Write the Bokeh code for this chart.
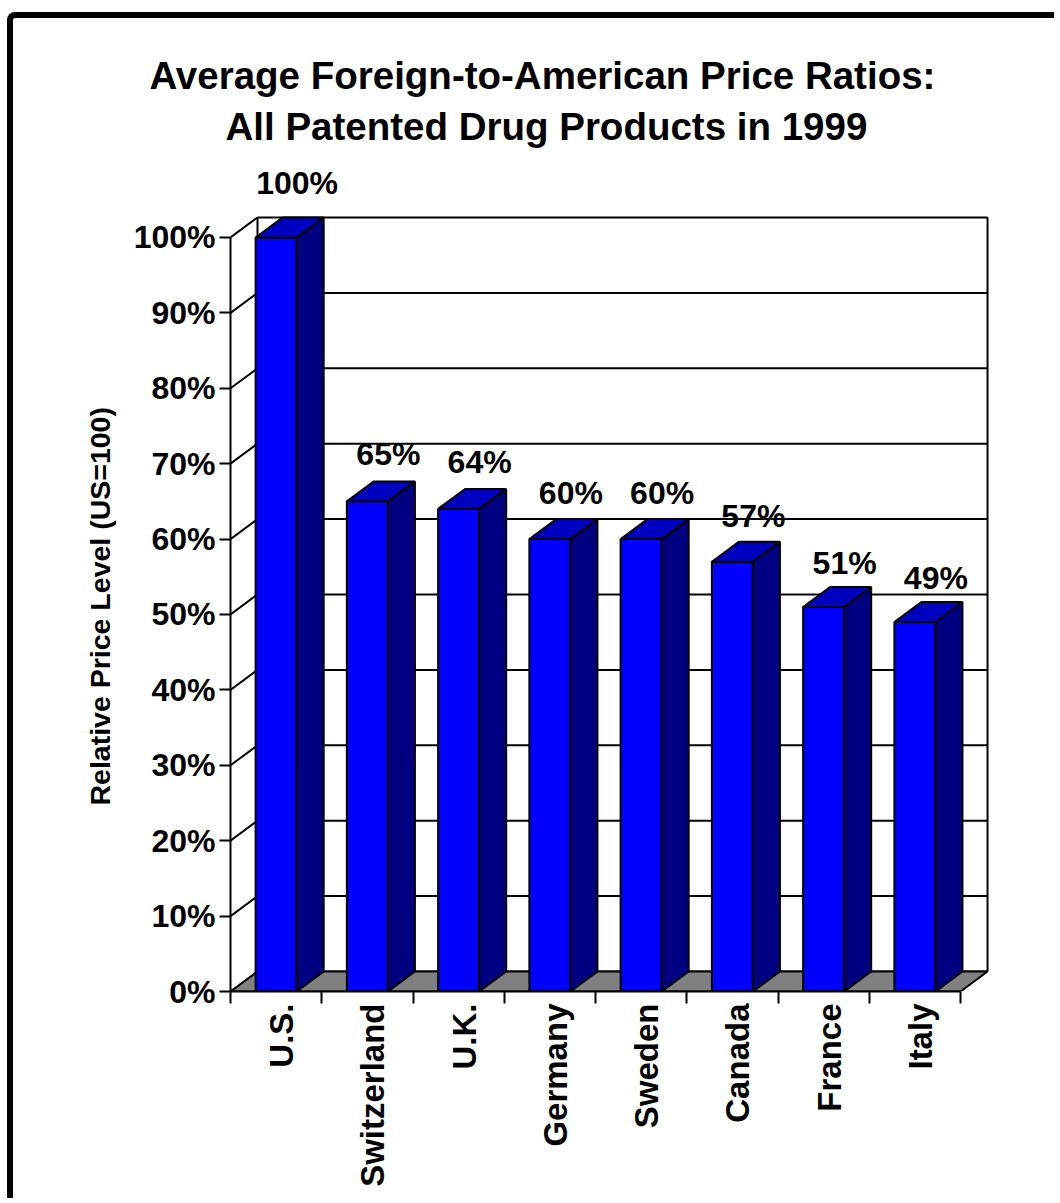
import math
from bokeh.plotting import figure
from bokeh.models import FixedTicker, PrintfTickFormatter, Title
from bokeh.core.properties import value
from bokeh.embed import file_html
from bokeh.resources import INLINE

# Data
countries = ["U.S.", "Switzerland", "U.K.", "Germany", "Sweden", "Canada", "France", "Italy"]
ratios = [100, 65, 64, 60, 60, 57, 51, 49]
y_ticks = [0, 10, 20, 30, 40, 50, 60, 70, 80, 90, 100]
title_lines = ["Average Foreign-to-American Price Ratios:", "All Patented Drug Products in 1999"]
y_title = "Relative Price Level (US=100)"

# Styling / pseudo-3D geometry
FONT = "Liberation Sans"
BAR_W = 0.45          # front face width, in category units
DEPTH_X = 0.296       # receding offset along x (category units)
DEPTH_Y = 2.65        # receding offset along y (percentage points)
LABEL_RISE = 0.027    # value labels float a little higher on taller bars
FRONT = "#0000FF"
SIDE = "#000080"
TOP = "#0000C0"
FLOOR = "#808080"
LW = 2

n = len(countries)
y_max = max(y_ticks)

p = figure(width=1047, height=1186, x_range=(0, n + 0.438), y_range=(0, 111.4),
           output_backend="svg", toolbar_location=None,
           min_border_left=217, min_border_right=60, min_border_top=133, min_border_bottom=213)
p.margin = (12, 0, 0, 7)
p.styles = {"border-left": "6px solid black", "border-top": "6px solid black",
            "border-top-left-radius": "8px"}
p.outline_line_color = None
p.grid.visible = False
p.background_fill_color = "white"
p.border_fill_color = "white"

# back wall grid lines
gx0 = [DEPTH_X] * len(y_ticks)
gx1 = [n + DEPTH_X] * len(y_ticks)
gy = [t + DEPTH_Y for t in y_ticks]
p.segment(x0=gx0, y0=gy, x1=gx1, y1=gy, line_color="black", line_width=LW)
# left wall diagonals
p.segment(x0=[0] * len(y_ticks), y0=y_ticks, x1=gx0, y1=gy, line_color="black", line_width=LW)
# back wall vertical edges
p.segment(x0=[DEPTH_X, n + DEPTH_X], y0=[DEPTH_Y, DEPTH_Y],
          x1=[DEPTH_X, n + DEPTH_X], y1=[y_max + DEPTH_Y, y_max + DEPTH_Y],
          line_color="black", line_width=LW)
# floor
p.patch(x=[0, n, n + DEPTH_X, DEPTH_X], y=[0, 0, DEPTH_Y, DEPTH_Y],
        fill_color=FLOOR, line_color="black", line_width=LW)

# bars
lefts = [i + 0.5 - BAR_W / 2 for i in range(n)]
rights = [i + 0.5 + BAR_W / 2 for i in range(n)]
p.quad(left=lefts, right=rights, bottom=[0] * n, top=ratios,
       fill_color=FRONT, line_color="black", line_width=LW)
side_xs = [[r, r + DEPTH_X, r + DEPTH_X, r] for r in rights]
side_ys = [[0, DEPTH_Y, v + DEPTH_Y, v] for v in ratios]
p.patches(xs=side_xs, ys=side_ys, fill_color=SIDE, line_color="black", line_width=LW)
top_xs = [[l, l + DEPTH_X, r + DEPTH_X, r] for l, r in zip(lefts, rights)]
top_ys = [[v, v + DEPTH_Y, v + DEPTH_Y, v] for v in ratios]
p.patches(xs=top_xs, ys=top_ys, fill_color=TOP, line_color="black", line_width=LW)

# value labels
p.text(x=[i + 0.73 for i in range(n)], y=[v * (1 + LABEL_RISE) + DEPTH_Y for v in ratios],
       text=[f"{v}%" for v in ratios], text_align="center", text_baseline="alphabetic",
       y_offset=-14, text_font=value(FONT), text_font_style="bold",
       text_font_size="32px", text_color="black")

# y axis
ya = p.yaxis[0]
ya.ticker = FixedTicker(ticks=y_ticks)
ya.formatter = PrintfTickFormatter(format="%d%%")
ya.bounds = (0, y_max)
ya.axis_line_width = LW
ya.major_tick_line_width = LW
ya.major_tick_out = 11
ya.major_tick_in = 0
ya.minor_tick_line_color = None
ya.major_label_standoff = 4
ya.major_label_text_font = FONT
ya.major_label_text_font_style = "bold"
ya.major_label_text_font_size = "32px"
ya.major_label_text_color = "black"

# x axis: category names centred, boundary ticks as minor ticks
xa = p.xaxis[0]
label_pos = [i + 0.56 for i in range(n)]
xa.ticker = FixedTicker(ticks=label_pos, minor_ticks=list(range(n + 1)))
xa.major_label_overrides = {c: name for c, name in zip(label_pos, countries)}
xa.major_label_orientation = math.pi / 2
xa.bounds = (0, n)
xa.axis_line_width = LW
xa.major_tick_out = 0
xa.major_tick_in = 0
xa.minor_tick_out = 12
xa.minor_tick_in = 0
xa.minor_tick_line_width = LW
xa.minor_tick_line_color = "black"
xa.major_label_standoff = 0
xa.major_label_text_font = FONT
xa.major_label_text_font_style = "bold"
xa.major_label_text_font_size = "33px"
xa.major_label_text_color = "black"

# vertical axis title, starting a fixed distance above the frame bottom
p.add_layout(Title(text=y_title, align="left", offset=186, standoff=30,
                   text_font=FONT, text_font_style="bold", text_font_size="28.5px",
                   text_color="black"), "left")

# two-line chart title (second line sits closest to the plot)
for line, off, so in zip(reversed(title_lines), [-5, -81], [8, 4]):
    p.add_layout(Title(text=line, align="left", offset=off, standoff=so,
                       text_font=FONT, text_font_style="bold", text_font_size="38.5px",
                       text_color="black"), "above")

open("out.html", "w").write(file_html(p, INLINE))
